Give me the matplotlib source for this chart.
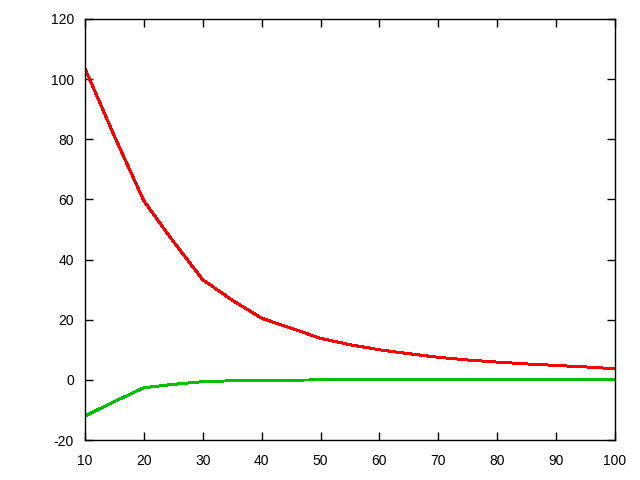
import matplotlib
matplotlib.use("Agg")
import matplotlib.pyplot as plt

# values
x = [10, 15, 20, 25, 30, 35, 40, 45, 50, 55, 60, 65, 70, 75, 80, 85, 90, 95, 100]
red = [103.5, 81.0, 59.5, 46.0, 33.3, 26.5, 20.5, 17.2, 13.8, 11.7, 10.0, 8.7, 7.5, 6.6, 5.9, 5.3, 4.8, 4.3, 3.7]
green = [-12.0, -7.2, -2.6, -1.5, -0.6, -0.3, -0.2, -0.1, 0.0, 0.0, 0.0, 0.0, 0.0, 0.0, 0.0, 0.0, 0.0, 0.0, 0.0]

xticks = list(range(10, 101, 10))
yticks = list(range(-20, 121, 20))

plt.rcParams["font.family"] = ["Liberation Sans", "DejaVu Sans"]
plt.rcParams["axes.unicode_minus"] = False

fig = plt.figure(figsize=(6.4, 4.8), dpi=100)
ax = fig.add_axes([85 / 640, 1 - 440 / 480, 530 / 640, 421 / 480])

ax.plot(x, red, color="#ff0000", lw=1.4, antialiased=False)
ax.plot(x, green, color="#00c000", lw=1.4, antialiased=False)

ax.set_xlim(10, 100)
ax.set_ylim(-20, 120)
ax.set_xticks(xticks)
ax.set_yticks(yticks)
ax.tick_params(direction="in", length=6, width=1, top=True, right=True,
               labelsize=10, colors="black")
ax.tick_params(axis="x", pad=10)
ax.tick_params(axis="y", pad=8)
for s in ax.spines.values():
    s.set_linewidth(1)

fig.savefig("out.png", dpi=100)
